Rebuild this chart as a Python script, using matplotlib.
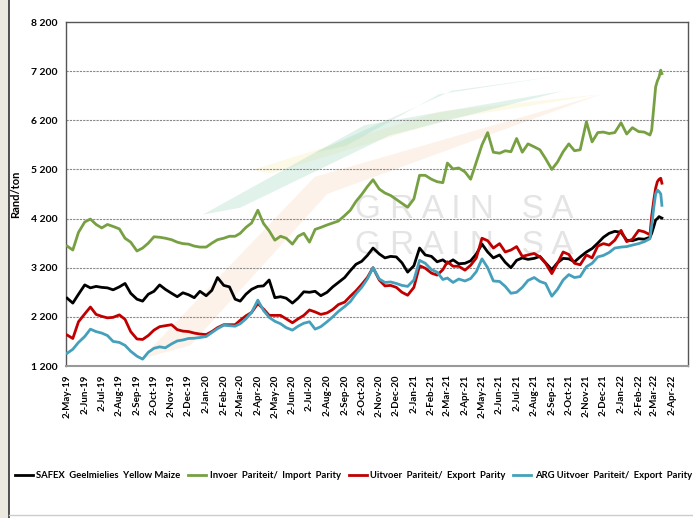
import numpy as np
import pandas as pd
import matplotlib
matplotlib.use("Agg")
import matplotlib.pyplot as plt
from matplotlib.patches import Rectangle, Polygon
from matplotlib.lines import Line2D

# -------------------------------
# DATA (Rand/ton)
# -------------------------------
# three readings per month (2nd, 12th, 22nd) from May-19 to Feb-22, then the March-22 spike
months = pd.date_range("2019-05-01", "2022-02-01", freq="MS")
dates = [m + pd.Timedelta(days=d) for m in months for d in (1, 11, 21)]
dates += list(pd.to_datetime(["2022-02-25", "2022-03-01", "2022-03-04", "2022-03-07",
                              "2022-03-10", "2022-03-13", "2022-03-15"]))

safex = [
    2580, 2480, 2660, 2850, 2790, 2820, 2800, 2790, 2750, 2810, 2880, 2680,
    2560, 2520, 2660, 2720, 2850, 2760, 2680, 2610, 2690, 2650, 2590, 2720,
    2630, 2740, 3000, 2840, 2810, 2560, 2520, 2660, 2760, 2820, 2830, 2950,
    2590, 2610, 2580, 2480, 2580, 2710, 2700, 2720, 2630, 2700, 2810, 2900,
    3000, 3140, 3270, 3330, 3450, 3600, 3480, 3400, 3430, 3420, 3300, 3110,
    3240, 3600, 3460, 3430, 3320, 3360, 3290, 3360, 3280, 3290, 3340, 3480,
    3680, 3520, 3400, 3460, 3310, 3200, 3350, 3400, 3370, 3390, 3430, 3300,
    3160, 3300, 3390, 3380, 3320, 3420, 3520, 3590, 3700, 3820, 3900, 3940,
    3920, 3760, 3750, 3790, 3780, 3820,
    3900, 4050, 4170, 4200, 4240, 4220, 4210,
]
import_parity = [
    3640, 3560, 3920, 4130, 4190, 4080, 4010, 4080, 4040, 3990, 3800, 3720,
    3540, 3600, 3700, 3830, 3820, 3800, 3770, 3720, 3690, 3680, 3640, 3620,
    3620, 3700, 3770, 3800, 3840, 3840, 3900, 4020, 4110, 4370, 4100, 3950,
    3760, 3840, 3800, 3680, 3840, 3900, 3720, 3980, 4020, 4070, 4110, 4150,
    4260, 4370, 4550, 4690, 4850, 4990, 4800, 4720, 4670, 4590, 4510, 4430,
    4600, 5080, 5080, 5000, 4950, 4930, 5330, 5210, 5230, 5150, 5000, 5350,
    5700, 5950, 5550, 5530, 5580, 5560, 5830, 5550, 5720, 5660, 5600, 5420,
    5200, 5350, 5560, 5720, 5580, 5600, 6170, 5760, 5950, 5960, 5930, 5950,
    6150, 5920, 6050, 5970, 5960, 5900,
    6000, 6500, 6880, 7000, 7080, 7220, 7150,
]
export_parity = [
    1830, 1760, 2100, 2260, 2400, 2250, 2210, 2180, 2190, 2240, 2150, 1900,
    1750, 1740, 1820, 1930, 2000, 2020, 2040, 1940, 1910, 1900, 1870, 1850,
    1840, 1900, 1980, 2040, 2040, 2040, 2130, 2220, 2290, 2470, 2360, 2230,
    2230, 2230, 2160, 2080, 2160, 2230, 2340, 2300, 2250, 2280, 2350, 2450,
    2500, 2620, 2730, 2860, 3000, 3200, 2950, 2830, 2840, 2800, 2700, 2640,
    2800, 3240, 3190, 3090, 3050, 3160, 3320, 3230, 3230, 3150, 3250, 3400,
    3800, 3750, 3600, 3690, 3520, 3560, 3630, 3430, 3460, 3490, 3420, 3290,
    3080, 3290, 3520, 3470, 3290, 3260, 3460, 3400, 3640, 3690, 3660, 3760,
    3960, 3730, 3780, 3960, 3930, 3870,
    4250, 4600, 4820, 4950, 5000, 5020, 4920,
]
arg_export_parity = [
    1460, 1540, 1680, 1800, 1950, 1900, 1870, 1820, 1700, 1680, 1620, 1500,
    1400, 1340, 1480, 1560, 1590, 1570, 1650, 1710, 1730, 1760, 1765, 1780,
    1800, 1880, 1960, 2030, 2020, 2010, 2060, 2160, 2290, 2540, 2330, 2190,
    2110, 2060, 1980, 1930, 2010, 2070, 2100, 1950, 2000, 2100, 2200, 2310,
    2410, 2510, 2670, 2800, 2970, 3200, 2970, 2900, 2910, 2880, 2840, 2820,
    2950, 3350, 3290, 3160, 3110, 2960, 2990, 2900, 2970, 2930, 2980, 3120,
    3380, 3200, 2930, 2920, 2820, 2680, 2700, 2800, 2940, 3000, 2920, 2880,
    2620, 2760, 2950, 3060, 3000, 3020, 3220, 3290, 3420, 3450, 3510, 3600,
    3620, 3630, 3660, 3690, 3730, 3790,
    4050, 4450, 4700, 4780, 4750, 4700, 4470,
]

labels = ["SAFEX  Geelmielies  Yellow Maize",
          "Invoer  Pariteit/  Import  Parity",
          "Uitvoer  Pariteit/  Export  Parity",
          "ARG Uitvoer  Pariteit/  Export  Parity"]
colors = ["#000000", "#77A043", "#C00000", "#45A0BC"]

y_ticks = [1200, 2200, 3200, 4200, 5200, 6200, 7200, 8200]
x_ticks = pd.date_range("2019-05-01", "2022-04-01", freq="MS") + pd.Timedelta(days=1)

# -------------------------------
# PLOT
# -------------------------------
font = ["Lato", "DejaVu Sans"]
plt.rcParams["font.family"] = font

fig = plt.figure(figsize=(6.93, 5.18), dpi=100)
ax = fig.add_axes([66 / 693, 1 - 366 / 518, 622 / 693, 344 / 518])

# beige strip + border on the left of the slide
fig.patches.append(Rectangle((0, 0), 8 / 693, 1, transform=fig.transFigure,
                             color="#ECE9DF", zorder=0))
fig.lines.append(Line2D([8.5 / 693, 8.5 / 693], [0, 1], transform=fig.transFigure,
                        color="#333333", lw=1.2))
fig.lines.append(Line2D([8.5 / 693, 1], [3 / 518, 3 / 518], transform=fig.transFigure,
                        color="#cccccc", lw=1))

# faint logo swooshes
swooshes = [
    ([(0.40, 0.62), (0.62, 0.80), (0.78, 0.84), (0.60, 0.79), (0.45, 0.64)], "#9ED6BE"),
    ([(0.30, 0.57), (0.60, 0.74), (0.86, 0.79), (0.62, 0.72), (0.33, 0.56)], "#F8EDB0"),
    ([(0.22, 0.44), (0.48, 0.70), (0.80, 0.80), (0.52, 0.67), (0.28, 0.46)], "#9ED6BE"),
    ([(0.12, 0.02), (0.40, 0.55), (0.86, 0.79), (0.42, 0.50), (0.20, 0.06)], "#FAD6B8"),
]
for pts, c in swooshes:
    ax.add_patch(Polygon(pts, closed=True, transform=ax.transAxes, color=c,
                         alpha=0.3, lw=0, zorder=0))
for ty in (0.455, 0.35):
    ax.text(0.64, ty, "G R A I N   S A", transform=ax.transAxes, fontsize=24,
            color="#d9d9d9", alpha=0.7, ha="center", va="center", zorder=1,
            family=["Liberation Sans", "DejaVu Sans"])

for series, c, lab in zip([safex, import_parity, export_parity, arg_export_parity], colors, labels):
    ax.plot(dates, series, color=c, lw=2, label=lab, zorder=3)

ax.set_ylim(1200, 8200)
ax.set_xlim(pd.Timestamp("2019-04-30"), pd.Timestamp("2022-04-30"))
ax.set_yticks(y_ticks)
ax.set_yticklabels([f"{v:,}".replace(",", " ") for v in y_ticks],
                   fontsize=7.5, fontweight="bold")
ax.set_xticks(x_ticks)
ax.set_xticklabels([f"{d.day}-{d.strftime('%b-%y')}" for d in x_ticks],
                   rotation=90, fontsize=7, fontweight="bold")
ax.tick_params(length=0, pad=6)
ax.set_ylabel("Rand/ton", fontsize=8, fontweight="bold", labelpad=7)

for v in y_ticks[1:-1]:
    ax.axhline(v, color="#888888", lw=0.8, ls=(0, (2, 1)), zorder=2)

for s in ["top", "left", "right"]:
    ax.spines[s].set_color("#555555")
    ax.spines[s].set_linewidth(1)
ax.spines["bottom"].set_color("#999999")
ax.spines["bottom"].set_linewidth(1.5)

fig.legend(loc="center", bbox_to_anchor=(0.51, 1 - 476 / 518), ncol=4, frameon=False,
           prop={"size": 6.8, "weight": "bold", "family": font},
           handlelength=1.9, handletextpad=0.4, columnspacing=0.8)

fig.savefig("out.png", dpi=100)
